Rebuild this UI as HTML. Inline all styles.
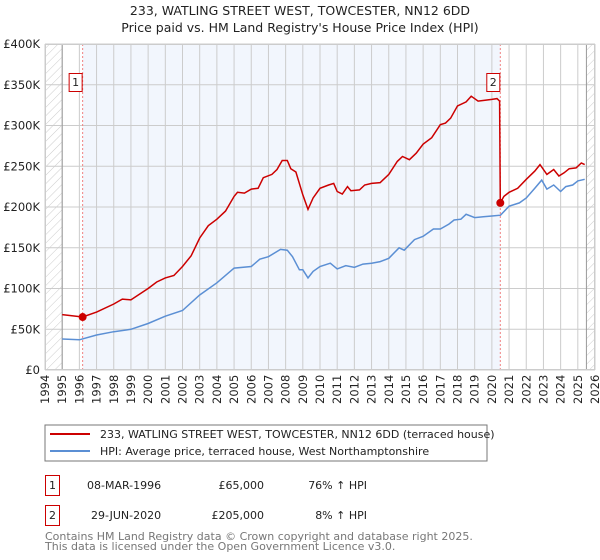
<!DOCTYPE html>
<html><head><meta charset="utf-8"><style>
body{margin:0;background:#fff;font-family:"DejaVu Sans","Liberation Sans",sans-serif;}
svg{display:block}
</style></head><body>
<svg id="chart" width="600" height="560" viewBox="0 0 600 560">
<defs><pattern id="hatch" width="6" height="6" patternUnits="userSpaceOnUse" patternTransform="rotate(45)"><line x1="0" y1="0" x2="0" y2="6" stroke="#ccc" stroke-width="1"/></pattern></defs>
<text x="300" y="15" text-anchor="middle" font-size="12.5" fill="#222">233, WATLING STREET WEST, TOWCESTER, NN12 6DD</text>
<text x="300" y="32" text-anchor="middle" font-size="12.5" fill="#222">Price paid vs. HM Land Registry's House Price Index (HPI)</text>
<g id="plot"></g>
<rect x="45" y="425" width="442" height="36" fill="#fff" stroke="#777"/>
<line x1="50" y1="434" x2="90" y2="434" stroke="#cc0000" stroke-width="2"/>
<text x="100" y="438" font-size="11" fill="#222">233, WATLING STREET WEST, TOWCESTER, NN12 6DD (terraced house)</text>
<line x1="50" y1="451" x2="90" y2="451" stroke="#5b8fd4" stroke-width="2"/>
<text x="100" y="455" font-size="11" fill="#222">HPI: Average price, terraced house, West Northamptonshire</text>
<g font-size="11" fill="#222">
<rect x="45.5" y="475.5" width="14" height="20" fill="none" stroke="#cc0000"/>
<text x="52.5" y="489" text-anchor="middle">1</text>
<text x="87" y="489">08-MAR-1996</text>
<text x="264" y="489" text-anchor="end">£65,000</text>
<text x="367" y="489" text-anchor="end">76% ↑ HPI</text>
<rect x="45.5" y="505.5" width="14" height="20" fill="none" stroke="#cc0000"/>
<text x="52.5" y="519" text-anchor="middle">2</text>
<text x="91" y="519">29-JUN-2020</text>
<text x="264" y="519" text-anchor="end">£205,000</text>
<text x="367" y="519" text-anchor="end">8% ↑ HPI</text>
</g>
<text x="45" y="540" font-size="11" fill="#777">Contains HM Land Registry data © Crown copyright and database right 2025.</text>
<text x="45" y="550" font-size="11" fill="#777">This data is licensed under the Open Government Licence v3.0.</text>
</svg>
<script>
const yTicks=[0,50,100,150,200,250,300,350,400];
const yTickLabels=["£0","£50K","£100K","£150K","£200K","£250K","£300K","£350K","£400K"];
const xYears=[1994,1995,1996,1997,1998,1999,2000,2001,2002,2003,2004,2005,2006,2007,2008,2009,2010,2011,2012,2013,2014,2015,2016,2017,2018,2019,2020,2021,2022,2023,2024,2025,2026];
const redT=[1995,1996.19,1997,1998,1998.5,1999,2000,2000.5,2001,2001.5,2002,2002.5,2003,2003.5,2004,2004.5,2005,2005.2,2005.6,2006,2006.4,2006.7,2007.2,2007.5,2007.8,2008.1,2008.3,2008.6,2009,2009.3,2009.6,2010,2010.5,2010.8,2011,2011.3,2011.6,2011.8,2012.3,2012.6,2013,2013.5,2014,2014.5,2014.8,2015.2,2015.6,2016,2016.5,2017,2017.3,2017.6,2018,2018.5,2018.8,2019.2,2019.6,2020,2020.3,2020.45,2020.49,2020.7,2021,2021.5,2022,2022.5,2022.8,2023.2,2023.6,2023.9,2024.2,2024.5,2024.9,2025.2,2025.4];
const redV=[68,65,71,81,87,86,100,108,113,116,127,140,162,177,185,195,213,218,217,222,223,236,240,246,257,257,247,243,215,197,211,223,227,229,219,216,225,220,221,227,229,230,240,256,262,258,266,277,285,301,303,309,324,329,336,330,331,332,333,330,205,213,218,223,234,244,252,240,246,238,242,247,248,254,252];
const blueT=[1995,1996,1997,1998,1999,2000,2001,2002,2003,2004,2005,2006,2006.5,2007,2007.7,2008.1,2008.4,2008.8,2009,2009.3,2009.6,2010,2010.6,2011,2011.5,2012,2012.5,2013,2013.5,2014,2014.6,2014.9,2015.5,2016,2016.6,2017,2017.5,2017.8,2018.2,2018.5,2019,2019.5,2020,2020.5,2021,2021.6,2022,2022.5,2022.9,2023.2,2023.6,2024,2024.3,2024.7,2025,2025.4];
const blueV=[38,37,43,47,50,57,66,73,92,107,125,127,136,139,148,147,139,123,123,113,121,127,131,124,128,126,130,131,133,137,150,147,160,164,173,173,179,184,185,191,187,188,189,190,201,205,211,223,233,222,227,219,225,227,232,234];
const saleT=[1996.19,2020.49];
const saleV=[65,205];
const saleLabels=["1","2"];

const X0=45,X1=595,Y0=370,Y1=44;
const xs=t=>X0+(t-1994)/(2026-1994)*(X1-X0);
const ys=v=>Y0-v/400*(Y0-Y1);
const NS="http://www.w3.org/2000/svg";
const g=document.getElementById('plot');
function mk(tag,attrs,parent){const e=document.createElementNS(NS,tag);for(const k in attrs)e.setAttribute(k,attrs[k]);(parent||g).appendChild(e);return e;}

let e;
e=mk('rect',{x:xs(1994),y:Y1,width:xs(1995)-xs(1994),height:Y0-Y1,fill:'url(#hatch)'});


e=mk('rect',{x:xs(2025.5),y:Y1,width:xs(2026)-xs(2025.5),height:Y0-Y1,fill:'url(#hatch)'});


e=mk('rect',{x:xs(saleT[0]),y:Y1,width:xs(saleT[1])-xs(saleT[0]),height:Y0-Y1,fill:'#eef3fc',opacity:0.75});



xYears.forEach(yr=>{
  e=mk('line',{x1:xs(yr),x2:xs(yr),y1:Y1,y2:Y0,stroke:'#ccc','stroke-width':1});
  
  
  e=mk('text',{x:0,y:0,transform:`translate(${xs(yr)+4},${Y0+34}) rotate(-90)`,'font-size':11.5,fill:'#222'});
  e.textContent=yr;
  
  
});
yTicks.forEach((v,i)=>{
  e=mk('line',{x1:X0,x2:X1,y1:ys(v),y2:ys(v),stroke:'#ccc','stroke-width':1});
  
  
  e=mk('text',{x:X0-5,y:ys(v)+4,'text-anchor':'end','font-size':11.5,fill:'#222'});
  e.textContent=yTickLabels[i];
  
  
});
e=mk('line',{x1:xs(1995),x2:xs(1995),y1:Y1,y2:Y0,stroke:'#999'});


e=mk('line',{x1:xs(2025.5),x2:xs(2025.5),y1:Y1,y2:Y0,stroke:'#999'});



saleT.forEach((t,i)=>{
  e=mk('line',{x1:xs(t),x2:xs(t),y1:Y1,y2:Y0,stroke:'#f08080','stroke-dasharray':'2,2'});
  
  
});

const pts=(T,V)=>T.map((t,i)=>xs(t).toFixed(1)+','+ys(V[i]).toFixed(1)).join(' ');
e=mk('polyline',{points:pts(blueT,blueV),fill:'none',stroke:'#5b8fd4','stroke-width':1.5});


e=mk('polyline',{points:pts(redT,redV),fill:'none',stroke:'#cc0000','stroke-width':1.5});



saleT.forEach((t,i)=>{
  e=mk('circle',{cx:xs(t),cy:ys(saleV[i]),r:4,fill:'#cc0000'});
  
  
  e=mk('rect',{x:xs(t)-13.5,y:73.5,width:13,height:18,fill:'#fff',stroke:'#cc0000'});
  
  
  e=mk('text',{x:xs(t)-7,y:86,'text-anchor':'middle','font-size':11,fill:'#222'});
  e.textContent=saleLabels[i];
  
  
});
e=mk('rect',{x:X0+0.5,y:Y1+0.5,width:X1-X0-1,height:Y0-Y1-1,fill:'none',stroke:'#ccc'});


</script>
</body></html>
